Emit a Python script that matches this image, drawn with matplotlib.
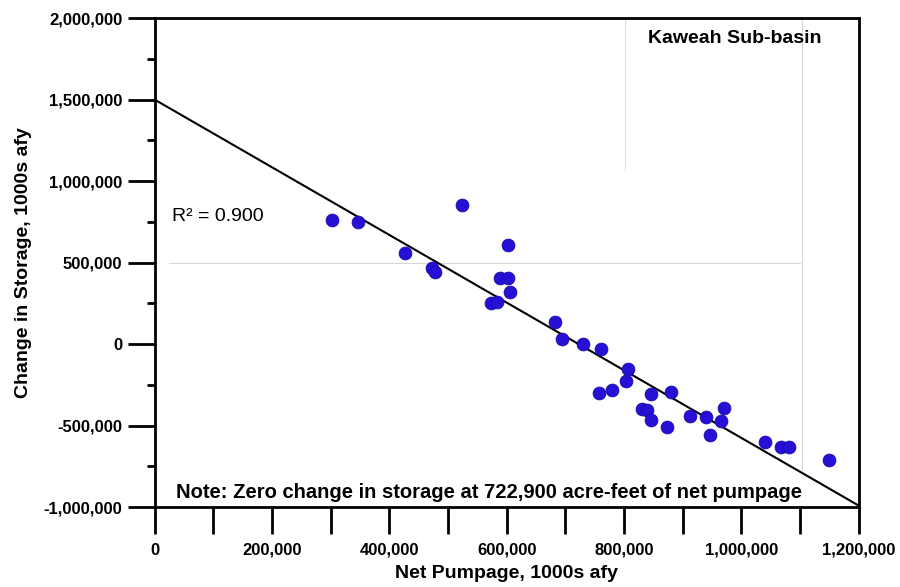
import numpy as np
import matplotlib
matplotlib.use("Agg")
from matplotlib import pyplot as plt
from matplotlib.ticker import MultipleLocator, FuncFormatter

# net pumpage vs change in storage
netPumpage = [301700, 346000, 426000, 472000, 477000, 523000, 602000, 588000,
              603000, 605000, 574000, 584000, 682000, 694000, 730000, 760000,
              806000, 803000, 758000, 779000, 846000, 880000, 830000, 840000,
              846000, 874000, 912000, 939000, 946000, 966000, 970000, 1040000,
              1067000, 1082000, 1150000]
storageChange = [761000, 748000, 558000, 466000, 441000, 853000, 607000, 405000,
                 405000, 319000, 252000, 258000, 135000, 31000, 0, -31000,
                 -153000, -227000, -301000, -282000, -307000, -294000, -399000, -405000,
                 -466000, -509000, -442000, -448000, -558000, -472000, -393000, -601000,
                 -632000, -632000, -712000]

# regression line: intercept and zero crossing
intercept = 1500000
zeroPumpage = 722900
rSquared = 0.900

plt.rcParams['font.family'] = ['Liberation Sans', 'DejaVu Sans']

fig = plt.figure(figsize=(9, 5.87), dpi=100)
ax = fig.add_axes([0.172, 0.136, 0.782, 0.833])

# faint artifact lines from the scanned original
ax.plot([25000, 1100000], [500000, 500000], color='#d8d8d8', lw=0.8, zorder=0)
ax.plot([801000, 801000], [2000000, 1070000], color='#e0e0e0', lw=0.8, zorder=0)
ax.plot([1103000, 1103000], [2000000, -770000], color='#d8d8d8', lw=0.8, zorder=0)

lineX = np.array([0, 1200000])
lineY = intercept - intercept / zeroPumpage * lineX
ax.plot(lineX, lineY, color='black', lw=1.5, zorder=2)

ax.scatter(netPumpage, storageChange, s=85, color='#2610d6', edgecolors='#1a0aa8',
           linewidths=0.6, zorder=3)

ax.set_xlim(0, 1200000)
ax.set_ylim(-1000000, 2000000)

ax.xaxis.set_major_locator(MultipleLocator(200000))
ax.xaxis.set_minor_locator(MultipleLocator(100000))
ax.yaxis.set_major_locator(MultipleLocator(500000))
ax.yaxis.set_minor_locator(MultipleLocator(250000))
fmt = FuncFormatter(lambda v, p: '{:,.0f}'.format(v))
ax.xaxis.set_major_formatter(fmt)
ax.yaxis.set_major_formatter(fmt)

for s in ax.spines.values():
    s.set_linewidth(2)
ax.tick_params(axis='x', which='both', direction='out', length=19.5, width=2, pad=6)
ax.tick_params(axis='y', which='major', direction='out', length=19.5, width=2, pad=4)
ax.tick_params(axis='y', which='minor', direction='out', length=6, width=2)
for lab in ax.get_xticklabels() + ax.get_yticklabels():
    lab.set_fontweight('bold')
    lab.set_fontsize(12)

ax.set_xlabel('Net Pumpage, 1000s afy', fontsize=14, fontweight='bold', labelpad=5)
ax.set_ylabel('Change in Storage, 1000s afy', fontsize=14, fontweight='bold', labelpad=8)

ax.text(0.824, 0.959, 'Kaweah Sub-basin', transform=ax.transAxes, ha='center', va='center',
        fontsize=14, fontweight='bold')
ax.text(0.024, 0.595, 'R\u00b2 = {:.3f}'.format(rSquared),
        transform=ax.transAxes, ha='left', va='center', fontsize=14)
ax.text(0.03, 0.029, 'Note: Zero change in storage at {:,} acre-feet of net pumpage'.format(zeroPumpage),
        transform=ax.transAxes, ha='left', va='center', fontsize=14.5, fontweight='bold')

fig.savefig('out.png', dpi=100)
